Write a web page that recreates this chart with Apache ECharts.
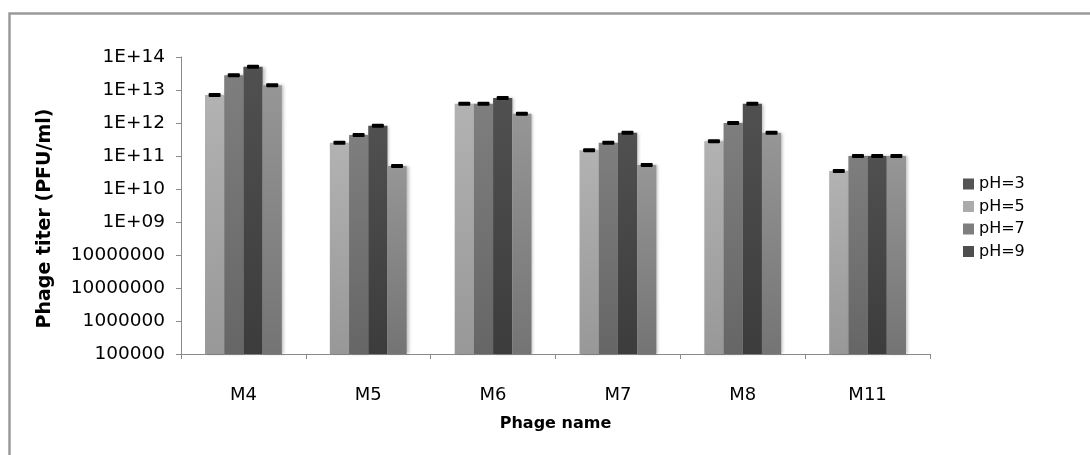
<!DOCTYPE html>
<html>
<head>
<meta charset="utf-8">
<script src="https://cdn.jsdelivr.net/npm/echarts@6/dist/echarts.min.js"></script>
<style>html,body{margin:0;padding:0;background:#fff;}#c{width:1090px;height:455px;}</style>
</head>
<body>
<div id="c"></div>
<script>
// ---- data ----
const categories = ['M4', 'M5', 'M6', 'M7', 'M8', 'M11'];
const seriesNames = ['pH=5', 'pH=7', 'pH=9', 'pH=3']; // bar order within each group
const ph5 = [7.0e12, 2.5e11, 3.8e12, 1.5e11, 2.8e11, 3.5e10];
const ph7 = [2.8e13, 4.3e11, 3.8e12, 2.5e11, 1.0e12, 1.0e11];
const ph9 = [5.1e13, 8.3e11, 5.7e12, 5.1e11, 3.8e12, 1.0e11];
const ph3 = [1.4e13, 5.0e10, 1.9e12, 5.3e10, 5.1e11, 1.0e11];
const legendNames = ['pH=3', 'pH=5', 'pH=7', 'pH=9'];
const yTickLabels = ['100000', '1000000', '10000000', '10000000', '1E+09', '1E+10', '1E+11', '1E+12', '1E+13', '1E+14'];

// ---- styling ----
const barValues = [ph5, ph7, ph9, ph3];
const barTop = ['#b2b2b2', '#7e7e7e', '#505050', '#969696'];
const barBottom = ['#989898', '#666666', '#3c3c3c', '#747474'];
const legendColors = {'pH=3': '#545454', 'pH=5': '#ababab', 'pH=7': '#7e7e7e', 'pH=9': '#4e4e4e'};
const BAR_W = 19.2;
const FONT = '"DejaVu Sans", sans-serif';

function grad(i) {
  return new echarts.graphic.LinearGradient(0, 0, 0, 1, [
    {offset: 0, color: barTop[i]}, {offset: 1, color: barBottom[i]}
  ]);
}

const series = barValues.map((vals, i) => ({
  name: seriesNames[i],
  type: 'bar',
  data: vals,
  barWidth: BAR_W,
  barGap: '0%',
  clip: true,
  itemStyle: {color: grad(i), shadowColor: 'rgba(0,0,0,0.25)', shadowBlur: 3, shadowOffsetX: 2},
  emphasis: {disabled: true}
}));

const capData = [];
barValues.forEach((vals, i) => vals.forEach((v, j) => capData.push([j, v, i])));
series.push({
  type: 'custom',
  name: 'err',
  data: capData,
  encode: {x: 0, y: 1},
  z: 10,
  renderItem: function (params, api) {
    const idx = api.value(2);
    const p = api.coord([api.value(0), api.value(1)]);
    const x = p[0] + (idx - 1.5) * BAR_W;
    return {type: 'rect', shape: {x: x - 6, y: p[1] - 2, width: 12, height: 4, r: 1}, style: {fill: '#000'}};
  }
});

const chart = echarts.init(document.getElementById('c'), null, {renderer: 'canvas'});
chart.setOption({
  animation: false,
  backgroundColor: '#fff',
  textStyle: {fontFamily: FONT},
  graphic: [{
    type: 'rect', shape: {x: 9.5, y: 13.5, width: 1200, height: 600},
    style: {fill: 'none', stroke: '#9a9a9a', lineWidth: 2.5}, silent: true
  }],
  grid: {left: 181, top: 57, right: 160, bottom: 101},
  legend: {
    orient: 'vertical', left: 958, top: 171,
    itemWidth: 11, itemHeight: 11, itemGap: 6.5,
    icon: 'rect',
    textStyle: {fontSize: 16, color: '#000', fontFamily: FONT, lineHeight: 16},
    data: legendNames.map(n => ({name: n, itemStyle: {color: legendColors[n]}}))
  },
  xAxis: {
    type: 'category',
    data: categories,
    name: 'Phage name',
    nameLocation: 'middle',
    nameGap: 62,
    nameMoveOverlap: false,
    nameTextStyle: {fontSize: 16, fontWeight: 'bold', color: '#000', fontFamily: FONT},
    axisLine: {lineStyle: {color: '#8a8a8a', width: 1}},
    axisTick: {show: true, length: 5, interval: 0, lineStyle: {color: '#8a8a8a'}},
    axisLabel: {fontSize: 18, color: '#000', margin: 32, fontFamily: FONT}
  },
  yAxis: {
    type: 'log',
    logBase: 10,
    min: 1e5,
    max: 1e14,
    startValue: 1e5,
    name: 'Phage titer (PFU/ml)',
    nameLocation: 'middle',
    nameGap: 126,
    nameMoveOverlap: false,
    nameTextStyle: {fontSize: 19, fontWeight: 'bold', color: '#000', fontFamily: FONT, padding: [0, 26, 0, 0]},
    axisLine: {show: true, lineStyle: {color: '#8a8a8a', width: 1}},
    axisTick: {show: true, length: 5, lineStyle: {color: '#8a8a8a'}},
    splitLine: {show: false},
    minorTick: {show: false},
    axisLabel: {
      fontSize: 18.5, color: '#000', margin: 16, fontFamily: FONT,
      formatter: function (v) {
        const k = Math.round(Math.log10(v)) - 5;
        return yTickLabels[k] !== undefined ? yTickLabels[k] : '';
      }
    }
  },
  series: series
});
</script>
</body>
</html>
